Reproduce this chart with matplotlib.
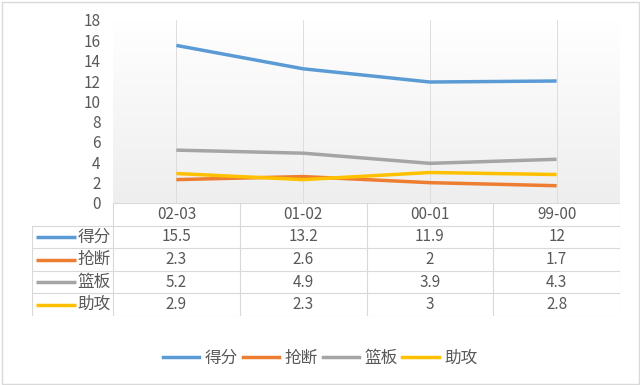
import matplotlib
matplotlib.use("Agg")
import matplotlib.pyplot as plt
import numpy as np
from matplotlib.lines import Line2D

plt.rcParams['font.family'] = ['Noto Sans CJK SC', 'DejaVu Sans']

seasons = ["02-03", "01-02", "00-01", "99-00"]
series_names = ["得分", "抢断", "篮板", "助攻"]
points = [15.5, 13.2, 11.9, 12]
steals = [2.3, 2.6, 2, 1.7]
rebounds = [5.2, 4.9, 3.9, 4.3]
assists = [2.9, 2.3, 3, 2.8]
value_labels = [["15.5", "13.2", "11.9", "12"],
                ["2.3", "2.6", "2", "1.7"],
                ["5.2", "4.9", "3.9", "4.3"],
                ["2.9", "2.3", "3", "2.8"]]
colors = ["#5B9BD5", "#ED7D31", "#A5A5A5", "#FFC000"]
yticks = [0, 2, 4, 6, 8, 10, 12, 14, 16, 18]

W, H = 640, 385
fig = plt.figure(figsize=(W / 100, H / 100), dpi=100)
fig.patch.set_facecolor("white")
txt = "#595959"
grid = "#D9D9D9"

def box(x0, y0, x1, y1):
    # pixel box (top-left origin) -> figure rect
    return [x0 / W, 1 - y1 / H, (x1 - x0) / W, (y1 - y0) / H]

# outer chart border
fig.add_artist(plt.Rectangle((1.5 / W, 1.5 / H), (W - 3) / W, (H - 3) / H,
                             transform=fig.transFigure, fill=False,
                             edgecolor=grid, lw=1))

# plot area
ax = fig.add_axes(box(113, 20, 620, 203))
x = np.arange(len(seasons))
ax.set_xlim(-0.5, len(seasons) - 0.5)
ax.set_ylim(0, 18)
grad = np.linspace(0, 1, 256).reshape(-1, 1)
ax.imshow(grad, extent=[-0.5, len(seasons) - 0.5, 0, 18], aspect="auto",
          cmap=matplotlib.colors.LinearSegmentedColormap.from_list(
              "bg", ["#EEEEEE", "#FFFFFF"]), origin="lower", zorder=0)
for xi in x:
    ax.axvline(xi, color="#DDDDDD", lw=0.7, zorder=1)
for vals, c in zip([points, steals, rebounds, assists], colors):
    ax.plot(x, vals, color=c, lw=2.5, zorder=3, solid_capstyle="butt")
for s in ax.spines.values():
    s.set_visible(False)
ax.set_xticks([])
ax.set_yticks(yticks)
ax.tick_params(axis="y", length=0, pad=9, labelsize=11, labelcolor=txt)

# data table
row_h = 22.6
top = 203
left, plot_left, right = 32, 113, 620
col_w = (right - plot_left) / len(seasons)
tab = fig.add_axes(box(left, top, right, top + 5 * row_h))
tab.set_xlim(-0.5 - (plot_left - left) / col_w, len(seasons) - 0.5)
tab.set_ylim(5, 0)
tab.axis("off")
x0 = -0.5 - (plot_left - left) / col_w
x1 = len(seasons) - 0.5
# horizontal lines
tab.plot([-0.5, x1], [0, 0], color=grid, lw=0.8)
for r in range(1, 6):
    tab.plot([x0, x1], [r, r], color=grid, lw=0.8)
# vertical lines
tab.plot([x0, x0], [1, 5], color=grid, lw=0.8)
for k in range(len(seasons) + 1):
    tab.plot([k - 0.5, k - 0.5], [0, 5], color=grid, lw=0.8)
for i, s in enumerate(seasons):
    tab.text(i, 0.5, s, ha="center", va="center", fontsize=11, color=txt)
for r, (name, c, labels) in enumerate(zip(series_names, colors, value_labels)):
    yy = r + 1.5
    tab.plot([x0 + 0.03, x0 + 0.35], [yy, yy], color=c, lw=2.5,
             solid_capstyle="butt")
    tab.text(-0.52, yy, name, ha="right", va="center", fontsize=12, color=txt)
    for i, lab in enumerate(labels):
        tab.text(i, yy, lab, ha="center", va="center", fontsize=11, color=txt)

# legend
handles = [Line2D([], [], color=c, lw=2.5) for c in colors]
fig.legend(handles, series_names, loc="center", ncol=4,
           bbox_to_anchor=(0.5, 1 - 358 / H), frameon=False,
           fontsize=12, labelcolor=txt, handlelength=2.2,
           handletextpad=0.3, columnspacing=0.3)

fig.savefig("out.png", dpi=100)
